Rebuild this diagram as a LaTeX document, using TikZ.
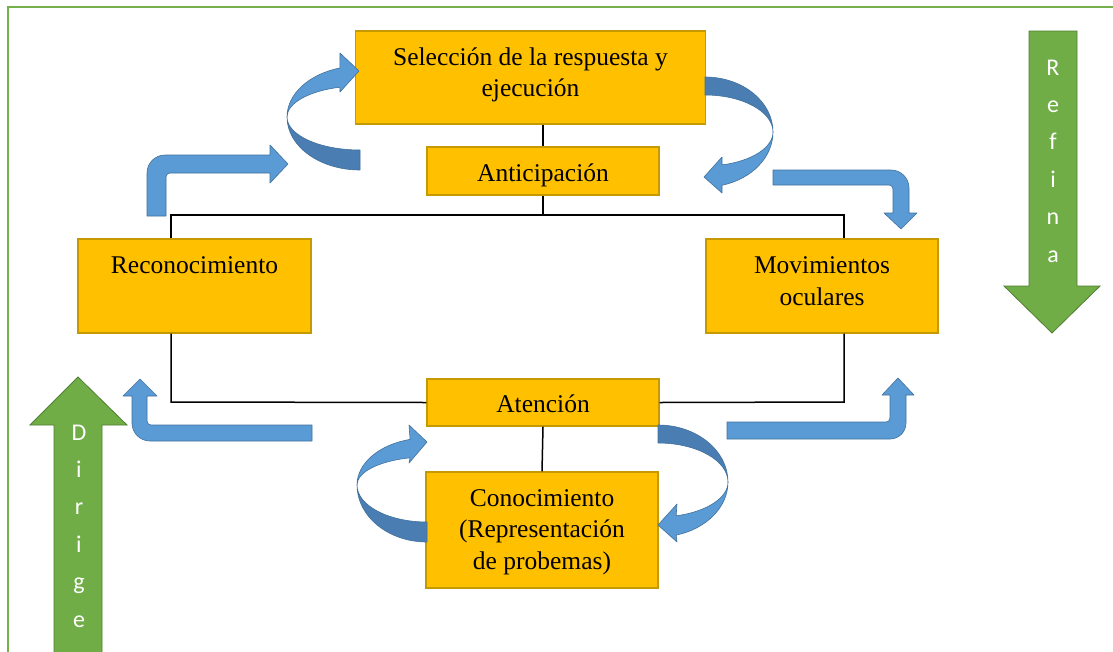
\documentclass[tikz,border=0pt]{standalone}
\usepackage{fontspec}
\setmainfont{Liberation Serif}
\newfontfamily\arrowfont{Carlito}
\definecolor{boxfill}{HTML}{FFC000}
\definecolor{boxline}{HTML}{C49A00}
\definecolor{bluefill}{HTML}{5B9BD5}
\definecolor{bluedark}{HTML}{4A7EB3}
\definecolor{blueline}{HTML}{41719C}
\definecolor{greenfill}{HTML}{70AD47}
\definecolor{greenline}{HTML}{507E32}
\definecolor{frame}{HTML}{74B14D}
\begin{document}
\begin{tikzpicture}[x=1pt,y=-1pt,
  box/.style={draw=boxline, fill=boxfill, line width=1.4pt, inner sep=0pt},
  txt/.style={inner sep=0pt, anchor=base, font=\fontsize{25.5}{31.7}\selectfont},
  conn/.style={draw=black, line width=1.5pt},
  blu/.style={fill=bluefill, draw=blueline, line width=0.6pt, line join=round},
  bd/.style={fill=bluedark, draw=blueline, line width=0.6pt, line join=round},
  garrow/.style={fill=greenfill, draw=greenline, line width=0.8pt},
  gtxt/.style={inner sep=0pt, anchor=base, text=white, font=\arrowfont\fontsize{24}{37.4}\selectfont}]
\useasboundingbox (0,0) rectangle (1113,651);
\clip (0,0) rectangle (1113,651);
\fill[white] (0,0) rectangle (1113,651);
% frame
\draw[frame, line width=2.5pt] (8,7) rectangle (1200,800);

% connector coordinates
\coordinate (tl) at (171,215);
\coordinate (tr) at (844,215);
\coordinate (bl) at (171,402);
\coordinate (br) at (844,402);

% boxes
\node[box, minimum width=350pt, minimum height=93pt] (sel) at (530.5,77.5) {};
\node[box, minimum width=232pt, minimum height=48pt] (ant) at (543,171) {};
\node[box, minimum width=233pt, minimum height=94pt] (rec) at (194.5,286) {};
\node[box, minimum width=232pt, minimum height=94pt] (mov) at (822,286) {};
\node[box, minimum width=232pt, minimum height=47pt] (att) at (543,402.5) {};
\node[box, minimum width=232pt, minimum height=116pt] (con) at (542,530) {};

% connectors
\begin{scope}[on background layer/.style={}]
\draw[conn] (sel.south -| ant.north) -- (ant.north);
\draw[conn] (ant.south) -- (ant.south |- tl);
\draw[conn] (tl |- rec.north) -- (tl) -- (tr) -- (tr |- mov.north);
\draw[conn] (bl |- rec.south) -- (bl) -- (att.west);
\draw[conn] (att.east) -- (br) -- (br |- mov.south);
\draw[conn] (att.south) -- (con.north);
\end{scope}

% texts
\node[txt] (selT) at (530.5,65) {\begin{tabular}[t]{@{}c@{}}Selección de la respuesta y\\ejecución\end{tabular}};
\node[txt] (antT) at (543,181) {Anticipación};
\node[txt] (recT) at (194.5,273.3) {Reconocimiento};
\node[txt] (movT) at (822,273.3) {\begin{tabular}[t]{@{}c@{}}Movimientos\\oculares\end{tabular}};
\node[txt] (attT) at (543,412) {Atención};
\node[txt] (conT) at (542,506) {\begin{tabular}[t]{@{}c@{}}Conocimiento\\(Representación\\de probemas)\end{tabular}};

% curved arrow upper-left
\path[bd] (360,170) arc[start angle=90,end angle=180,x radius=73,y radius=53] arc[start angle=180,end angle=90,x radius=73,y radius=33] -- cycle;
\path[blu] (287,117) arc[start angle=180,end angle=254,x radius=73,y radius=51] -- (340,53) -- (359,71) -- (340,92) -- (339.9,87.2) arc[start angle=254,end angle=180,x radius=73,y radius=31] -- cycle;
% curved arrow upper-right
\path[bd] (705,77) arc[start angle=270,end angle=360,x radius=68,y radius=55] arc[start angle=0,end angle=-90,x radius=68,y radius=37] -- cycle;
\path[blu] (773,132) arc[start angle=0,end angle=75.5,x radius=68,y radius=55] -- (722,193) -- (704,177) -- (722,157) -- (722.03,164.9) arc[start angle=75.5,end angle=0,x radius=68,y radius=34] -- cycle;
% curved arrow lower-left
\path[bd] (427,542) arc[start angle=90,end angle=180,x radius=70,y radius=57] arc[start angle=180,end angle=90,x radius=70,y radius=37] -- cycle;
\path[blu] (357,485) arc[start angle=180,end angle=256,x radius=70,y radius=47] -- (409,425) -- (427,442) -- (409,463) -- (410.07,457.83) arc[start angle=256,end angle=180,x radius=70,y radius=28] -- cycle;
% curved arrow lower-right
\path[bd] (658,425) arc[start angle=270,end angle=360,x radius=70,y radius=57] arc[start angle=0,end angle=-90,x radius=70,y radius=39] -- cycle;
\path[blu] (728,482) arc[start angle=0,end angle=75,x radius=70,y radius=55] -- (677,542) -- (658,525) -- (677,504) -- (676.12,515.81) arc[start angle=75,end angle=0,x radius=70,y radius=35] -- cycle;

% bent arrows
\path[blu] (147,216) -- (147,173) arc[start angle=180,end angle=270,radius=18] -- (270,155) -- (270,145) -- (288,164) -- (270,183) -- (270,173) -- (170,173) arc[start angle=270,end angle=180,radius=4] -- (166,216) -- cycle;
\path[blu] (773,170) -- (891,170) arc[start angle=270,end angle=360,radius=18] -- (909,213) -- (917,213) -- (901,229) -- (884,213) -- (893,213) -- (893,189) arc[start angle=0,end angle=-90,radius=4] -- (773,185) -- cycle;
\path[blu] (312,425) -- (151,425) arc[start angle=90,end angle=180,radius=4] -- (147,396) -- (157,396) -- (140,379) -- (123,396) -- (132,396) -- (132,423) arc[start angle=180,end angle=90,radius=18] -- (312,441) -- cycle;
\path[blu] (727,422) -- (886,422) arc[start angle=90,end angle=0,radius=4] -- (890,395) -- (882,395) -- (898,378) -- (914,395) -- (906,395) -- (906,423) arc[start angle=0,end angle=90,radius=16] -- (727,439) -- cycle;

% green arrows
\path[garrow] (1029,31) -- (1077,31) -- (1077,286) -- (1100,286) -- (1052,333) -- (1004,286) -- (1029,286) -- cycle;
\node[gtxt] (refT) at (1053,75) {\begin{tabular}[t]{@{}c@{}}R\\e\\f\\i\\n\\a\end{tabular}};
\path[garrow] (54,700) -- (54,425) -- (30,425) -- (78,377) -- (127,425) -- (102,425) -- (102,700) -- cycle;
\node[gtxt] (dirT) at (79,440) {\begin{tabular}[t]{@{}c@{}}D\\i\\r\\i\\g\\e\end{tabular}};
\end{tikzpicture}
\end{document}
